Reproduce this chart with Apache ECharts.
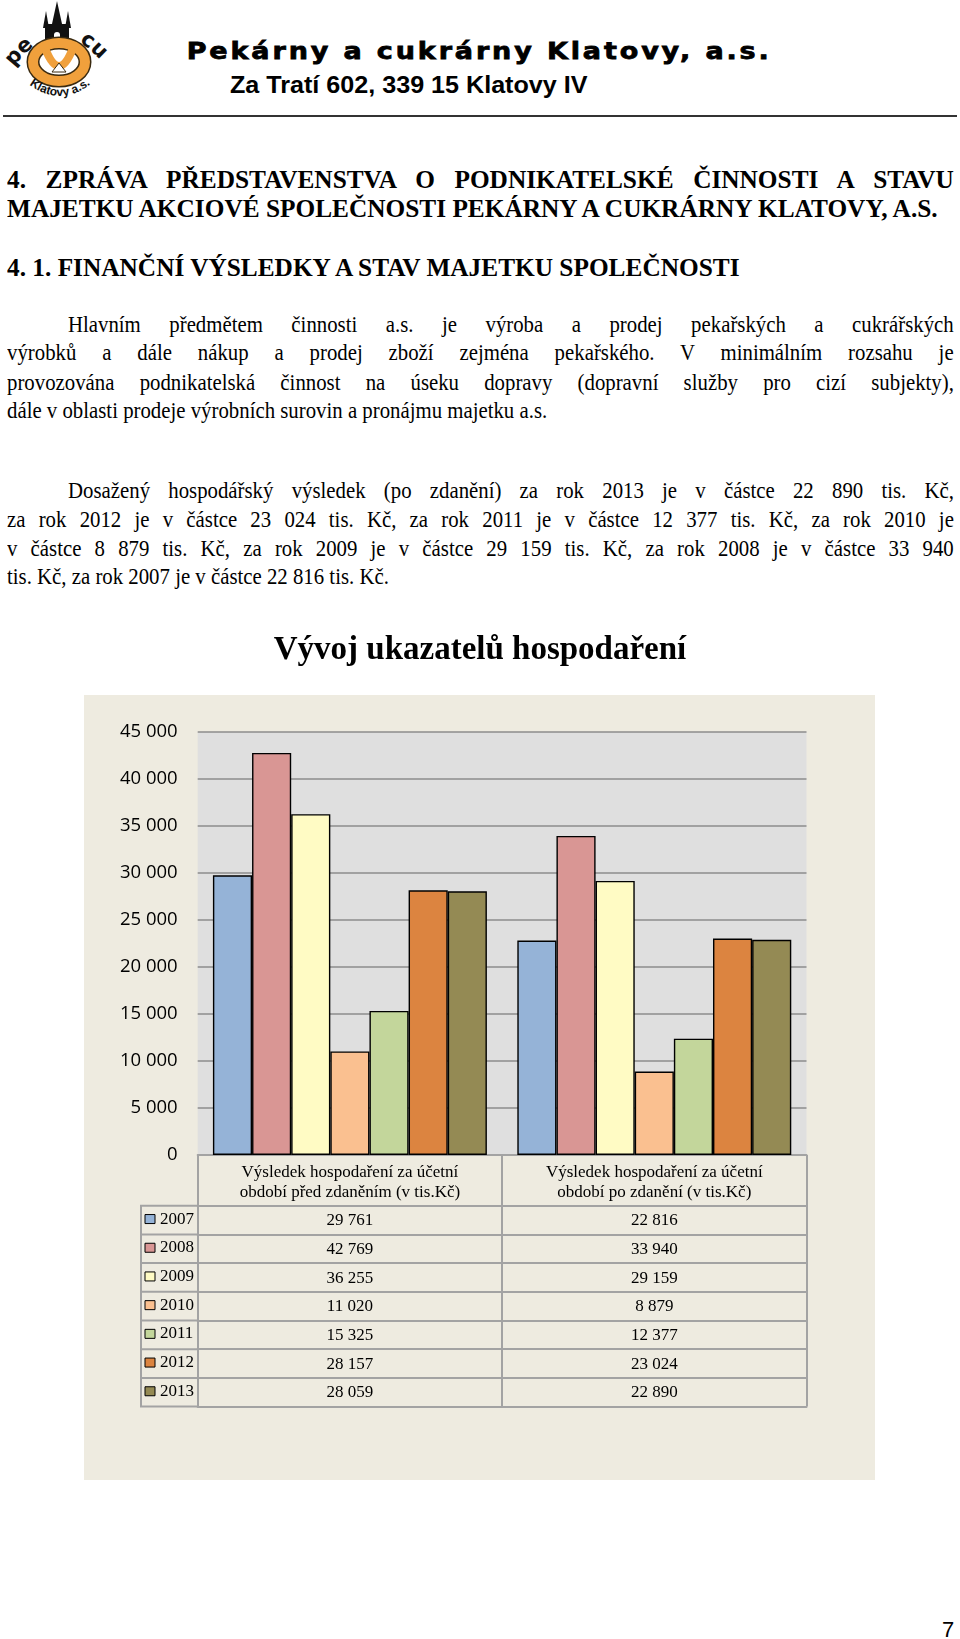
<!DOCTYPE html>
<html><head><meta charset="utf-8">
<script src="https://cdn.jsdelivr.net/npm/echarts@6/dist/echarts.min.js"></script>
<style>
html,body{margin:0;padding:0;background:#fff;}
#page{position:relative;width:960px;height:1639px;overflow:hidden;background:#fff;}
.t{position:absolute;white-space:nowrap;color:#000;transform-origin:0 0;}
.h{font-family:"Liberation Serif","Times New Roman",serif;font-weight:bold;}
.b{font-family:"Liberation Serif","Times New Roman",serif;}
#chart{position:absolute;left:0;top:600px;width:960px;height:900px;}
#rule{position:absolute;left:3px;top:115px;width:954px;height:2px;background:#333;}
</style></head>
<body>
<div id="page">
<svg id="logo" width="112" height="110" style="position:absolute;left:0;top:0">
 <defs>
  <path id="arcTop" d="M 10 72 Q 59 2 110 72"/>
  <path id="arcBot" d="M 14 70 Q 59 122 106 70"/>
 </defs>
 <polygon points="57,1 52,24 62,24" fill="#111"/>
 <polygon points="46,11 43,28 49,28" fill="#111"/>
 <polygon points="68,11 65,28 71,28" fill="#111"/>
 <rect x="45" y="24" width="24" height="24" fill="#111"/>
 <rect x="54" y="32" width="6" height="12" rx="3" fill="#fff"/>
 <ellipse cx="59" cy="62" rx="26" ry="19" fill="none" stroke="#3a2a10" stroke-width="13"/>
 <ellipse cx="59" cy="62" rx="26" ry="19" fill="none" stroke="#F0A03C" stroke-width="10"/>
 <path d="M45 48 Q59 84 73 48" fill="none" stroke="#F0A03C" stroke-width="8"/>
 <path d="M52 72 L59 63 L66 72 Z" fill="#fff" stroke="#3a2a10" stroke-width="1"/>
 <text font-family="DejaVu Sans" font-weight="bold" font-size="21" fill="#111"><textPath href="#arcTop" startOffset="5%">pe</textPath></text>
 <text font-family="DejaVu Sans" font-weight="bold" font-size="21" fill="#111"><textPath href="#arcTop" startOffset="66%">cu</textPath></text>
 <text font-family="Liberation Sans" font-weight="bold" font-size="12" fill="#111"><textPath href="#arcBot" startOffset="50%" text-anchor="middle">Klatovy  a.s.</textPath></text>
</svg>
<div id="h1" class="t" style="font-family:'DejaVu Sans';font-weight:bold;font-size:27px;line-height:27px;-webkit-text-stroke:0.9px #000;">Pekárny a cukrárny Klatovy, a.s.</div>
<div id="h2" class="t" style="font-family:'Liberation Sans';font-weight:bold;font-size:24px;line-height:24px;">Za Tratí 602, 339 15 Klatovy IV</div>
<div id="rule"></div>
<div id="chart"></div>
<div id="pn" class="t" style="font-family:'Liberation Sans';font-size:22px;line-height:22px;left:942px;top:1619px;">7</div>
</div>
<script>
// ---------- chart data ----------
const categories = [
  'Výsledek hospodaření za účetní\nobdobí před zdaněním (v tis.Kč)',
  'Výsledek hospodaření za účetní\nobdobí po zdanění (v tis.Kč)'
];
const years = ['2007', '2008', '2009', '2010', '2011', '2012', '2013'];
const beforeTax = [29761, 42769, 36255, 11020, 15325, 28157, 28059];
const afterTax = [22816, 33940, 29159, 8879, 12377, 23024, 22890];
const yearColors = ['#95B3D7', '#D99694', '#FFFBC4', '#FAC090', '#C3D69B', '#DC8440', '#948A54'];
const yMin = 0, yMax = 45000, yStep = 5000;
const chartTitle = 'Vývoj ukazatelů hospodaření';

// ---------- page text ----------
const page = document.getElementById('page');
function place(el, x, baseline, F, k) {
  el.style.left = x + 'px';
  el.style.top = (baseline - k * F) + 'px';
}
const h1 = document.getElementById('h1');
{
  const sy = 0.85, F = 27;
  h1.style.left = '186.7px';
  h1.style.top = (58 - 0.846 * F * sy) + 'px';
  const w = h1.offsetWidth, n = h1.textContent.length;
  h1.style.letterSpacing = ((582 - w) / (n - 1)) + 'px';
  h1.style.transform = 'scaleY(' + sy + ')';
}
const h2 = document.getElementById('h2');
place(h2, 230, 93.3, 24, 0.8465);
h2.style.transform = 'scaleX(' + (358 / h2.offsetWidth) + ')';

const FH = 25, FB = 23;
const textLines = [
  {t: '4. ZPRÁVA PŘEDSTAVENSTVA O PODNIKATELSKÉ ČINNOSTI A STAVU', x: 7, w: 947, c: 180, cls: 'h', j: true},
  {t: 'MAJETKU AKCIOVÉ SPOLEČNOSTI PEKÁRNY A CUKRÁRNY KLATOVY, A.S.', x: 7, w: 931, c: 209, cls: 'h', fit: true},
  {t: '4. 1. FINANČNÍ VÝSLEDKY A STAV MAJETKU SPOLEČNOSTI', x: 7, w: 735, c: 268, cls: 'h'},
  {t: 'Hlavním předmětem činnosti a.s. je výroba a prodej pekařských a cukrářských', x: 68, w: 886, c: 325, cls: 'b', j: true},
  {t: 'výrobků a dále nákup a prodej zboží zejména pekařského. V minimálním rozsahu je', x: 7, w: 947, c: 353.5, cls: 'b', j: true},
  {t: 'provozována podnikatelská činnost na úseku dopravy (dopravní služby pro cizí subjekty),', x: 7, w: 947, c: 383, cls: 'b', j: true},
  {t: 'dále v oblasti prodeje výrobních surovin a pronájmu majetku a.s.', x: 7, w: 540, c: 411, cls: 'b', fit: true},
  {t: 'Dosažený hospodářský výsledek (po zdanění) za rok 2013 je v částce 22 890 tis. Kč,', x: 68, w: 886, c: 491.5, cls: 'b', j: true},
  {t: 'za rok 2012 je v částce 23 024 tis. Kč, za rok 2011 je v částce 12 377 tis. Kč, za rok 2010 je', x: 7, w: 947, c: 520, cls: 'b', j: true},
  {t: 'v částce 8 879 tis. Kč, za rok 2009 je v částce 29 159 tis. Kč, za rok 2008 je v částce 33 940', x: 7, w: 947, c: 549, cls: 'b', j: true},
  {t: 'tis. Kč, za rok 2007 je v částce 22 816 tis. Kč.', x: 7, w: 459, c: 577, cls: 'b'}
];
const scale = {};
const els = textLines.map(L => {
  const d = document.createElement('div');
  d.className = 't ' + L.cls;
  d.textContent = L.t;
  const F = L.cls === 'h' ? FH : FB;
  d.style.fontSize = F + 'px';
  d.style.lineHeight = F + 'px';
  page.appendChild(d);
  place(d, L.x, L.c + 0.31 * F, F, 0.8375);
  if (L.fit) scale[L.cls] = L.w / d.offsetWidth;
  return d;
});
textLines.forEach((L, i) => {
  const d = els[i], s = scale[L.cls];
  d.style.transform = 'scaleX(' + s + ')';
  if (L.j) {
    const spaces = (L.t.match(/ /g) || []).length;
    const extra = L.w / s - d.offsetWidth;
    d.style.wordSpacing = (extra / spaces) + 'px';
  }
});

// ---------- chart ----------
const fmt = v => String(v).replace(/\B(?=(\d{3})+(?!\d))/g, ' ');
const TOP = 600;
const GRID_L = 197.7, GRID_R = 806.5, GRID_T = 732 - TOP, GRID_B = 1155 - TOP;
const ROW0 = 1205.7 - TOP, ROW_H = 28.7;
const LINE = '#a3a3a3';
const SERIF = 'Liberation Serif';

const chart = echarts.init(document.getElementById('chart'), null, {renderer: 'canvas'});
const rowValues = years.map((y, i) => [beforeTax[i], afterTax[i]]);

const xAxes = [{
  type: 'category', data: categories, position: 'bottom',
  axisLine: {show: true, lineStyle: {color: LINE, width: 2}},
  axisTick: {show: true, interval: 0, length: ROW0 + 7 * ROW_H - GRID_B, lineStyle: {color: LINE, width: 2}},
  axisLabel: {interval: 0, margin: 8, fontFamily: SERIF, fontSize: 17, lineHeight: 19.5, color: '#000'},
  splitLine: {show: false}
}];
years.forEach((y, i) => {
  xAxes.push({
    type: 'category', data: categories, position: 'bottom',
    offset: ROW0 - GRID_B + i * ROW_H,
    axisLine: {show: true, lineStyle: {color: LINE, width: 2}},
    axisTick: {show: false},
    axisLabel: {interval: 0, margin: 7, fontFamily: SERIF, fontSize: 17, lineHeight: 16, color: '#000',
      formatter: (v, idx) => fmt(rowValues[i][idx])},
    splitLine: {show: false}
  });
});
xAxes.push({
  type: 'category', data: categories, position: 'bottom',
  offset: ROW0 - GRID_B + 7 * ROW_H,
  axisLine: {show: true, lineStyle: {color: LINE, width: 2}},
  axisTick: {show: false}, axisLabel: {show: false}, splitLine: {show: false}
});

const graphics = [{
  type: 'rect', z: -10, silent: true,
  shape: {x: 84, y: 695 - TOP, width: 791, height: 785},
  style: {fill: '#EEEBE0'}
}, {
  type: 'line', z: 10, silent: true,
  shape: {x1: 141, y1: ROW0, x2: 141, y2: ROW0 + 7 * ROW_H},
  style: {stroke: LINE, lineWidth: 2}
}];
for (let k = 0; k <= 7; k++) {
  graphics.push({
    type: 'line', z: 10, silent: true,
    shape: {x1: 140, y1: ROW0 + k * ROW_H, x2: GRID_L, y2: ROW0 + k * ROW_H},
    style: {stroke: LINE, lineWidth: 2}
  });
}

chart.setOption({
  animation: false,
  backgroundColor: 'transparent',
  title: {
    text: chartTitle, left: 'center', top: 33.5, padding: 0,
    textStyle: {fontFamily: SERIF, fontWeight: 'bold', fontSize: 33, color: '#000'}
  },
  graphic: graphics,
  legend: {
    orient: 'vertical', left: 144.5, top: ROW0 + ROW_H / 2 - 9.5, padding: 0,
    itemWidth: 10, itemHeight: 9, itemGap: ROW_H - 17, icon: 'rect', selectedMode: false,
    itemStyle: {borderColor: '#000', borderWidth: 1},
    textStyle: {fontFamily: SERIF, fontSize: 17, lineHeight: 17, color: '#000'},
    data: years
  },
  grid: {
    left: GRID_L, right: 960 - GRID_R, top: GRID_T, bottom: 900 - GRID_B,
    show: true, backgroundColor: '#DFDFDF', borderWidth: 0
  },
  xAxis: xAxes,
  yAxis: {
    type: 'value', min: yMin, max: yMax, interval: yStep,
    axisLine: {show: false}, axisTick: {show: false},
    axisLabel: {margin: 20, fontFamily: 'Open Sans', fontSize: 18.5, color: '#000', formatter: v => fmt(v)},
    splitLine: {show: true, lineStyle: {color: '#8C8C8C', width: 1.5}}
  },
  series: years.map((y, i) => ({
    name: y, type: 'bar', xAxisIndex: 0, yAxisIndex: 0,
    barGap: '0%', barCategoryGap: '10%',
    data: rowValues[i],
    itemStyle: {color: yearColors[i], borderColor: '#000', borderWidth: 1.4}
  }))
});
</script>
</body></html>
